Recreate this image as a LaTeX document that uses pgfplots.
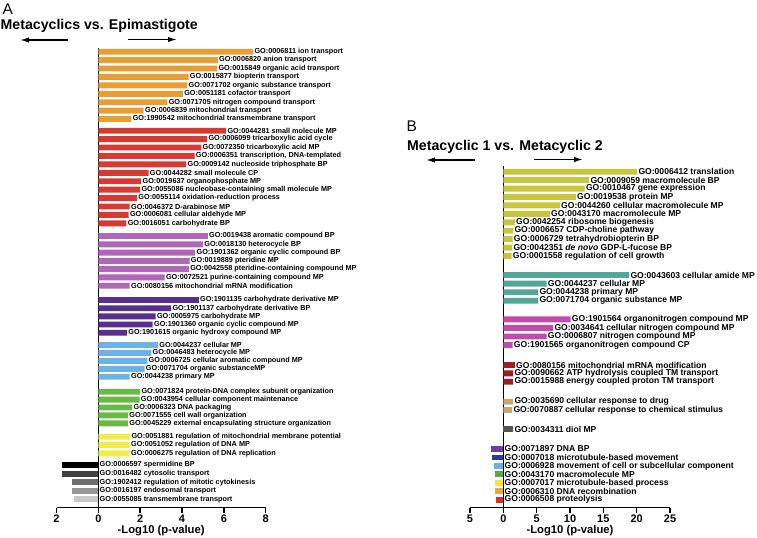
\documentclass[border=0pt]{standalone}
\usepackage{pgfplots}
\pgfplotsset{compat=1.18}
\usepackage{fontspec}
\setmainfont{Liberation Sans}
\usetikzlibrary{arrows.meta}
\definecolor{orangeA}{RGB}{232,158,52}
\definecolor{redA}{RGB}{214,58,50}
\definecolor{pinkA}{RGB}{178,102,185}
\definecolor{dpurpA}{RGB}{88,46,142}
\definecolor{lblueA}{RGB}{110,178,228}
\definecolor{greenA}{RGB}{106,184,72}
\definecolor{yellowA}{RGB}{244,236,72}
\definecolor{gA2}{RGB}{64,64,64}
\definecolor{gA3}{RGB}{110,110,110}
\definecolor{gA4}{RGB}{150,150,150}
\definecolor{gA5}{RGB}{200,200,200}
\definecolor{ygB}{RGB}{200,198,62}
\definecolor{tealB}{RGB}{84,166,152}
\definecolor{magB}{RGB}{190,76,168}
\definecolor{dredB}{RGB}{158,30,36}
\definecolor{tanB}{RGB}{200,168,116}
\definecolor{grayB}{RGB}{85,85,85}
\definecolor{nB1}{RGB}{112,64,160}
\definecolor{nB2}{RGB}{42,62,150}
\definecolor{nB3}{RGB}{106,176,224}
\definecolor{nB4}{RGB}{90,168,74}
\definecolor{nB5}{RGB}{245,230,66}
\definecolor{nB6}{RGB}{232,168,69}
\definecolor{nB7}{RGB}{216,48,42}
\pgfplotsset{
  gobar/.style={xbar, bar width=5.9, bar shift=0pt, draw=none, fill=#1,
    nodes near coords, point meta=explicit symbolic,
    every node near coord/.append style={anchor=west}},
  golab/.style={draw=none, mark=none, nodes near coords, point meta=explicit symbolic,
    nodes near coords align=horizontal, every node near coord/.append style={anchor=west}},
  goaxis/.style={
    scale only axis, clip=false,
    y dir=reverse,
    axis x line*=bottom, axis y line*=middle,
    axis line style={line width=1.4bp, black},
    ytick=\empty,
    tick align=outside, major tick length=5bp,
    every tick/.style={line width=1.4bp, black},
    xticklabel style={font=\fontsize{11}{12}\selectfont\bfseries, anchor=base, yshift=-9.5bp},
    xlabel={-Log10 (p-value)},
    xlabel style={font=\fontsize{11.3}{12}\selectfont\bfseries, at={(axis description cs:0.5,0)}, anchor=base, yshift=-26bp},
  },
}
\begin{document}
\begin{tikzpicture}
\path[use as bounding box] (0,0) rectangle (757bp,-538bp);
% Panel A headings
\node[anchor=base west, inner sep=0, font=\fontsize{15.5}{16}\selectfont] at (2.5bp,-14bp) {A};
\node[anchor=base west, inner sep=0, font=\fontsize{14.2}{15}\selectfont\bfseries] at (0.5bp,-29.5bp) {Metacyclics vs. Epimastigote};
\draw[line width=1.5bp, -{Latex[length=9bp,width=5.5bp]}] (68bp,-40bp) -- (20bp,-40bp);
\draw[line width=1.5bp, -{Latex[length=9bp,width=5.5bp]}] (128bp,-39.5bp) -- (177bp,-39.5bp);
% Panel B headings
\node[anchor=base west, inner sep=0, font=\fontsize{15.5}{16}\selectfont] at (406.5bp,-131.5bp) {B};
\node[anchor=base west, inner sep=0, font=\fontsize{14.2}{15}\selectfont\bfseries] at (407bp,-150bp) {Metacyclic 1 vs. Metacyclic 2};
\draw[line width=1.5bp, -{Latex[length=9bp,width=5.5bp]}] (475bp,-160bp) -- (426bp,-160bp);
\draw[line width=1.5bp, -{Latex[length=9bp,width=5.5bp]}] (534bp,-159.5bp) -- (583bp,-159.5bp);

\begin{axis}[goaxis,
  at={(56.5bp,-507.5bp)}, anchor=south west,
  width=209.2bp, height=459.5bp,
  xmin=-2, xmax=8, ymin=48, ymax=507.5,
  xtick={-2,0,2,4,6,8}, xticklabels={2,0,2,4,6,8},
  nodes near coords style={font=\fontsize{7.3}{8}\selectfont\bfseries, inner sep=1.2bp, text=black},
]
\addplot[gobar=orangeA] coordinates {
(7.4,51.7) [GO:0006811 ion transport]
(5.71,60.1) [GO:0006820 anion transport]
(5.68,68.5) [GO:0015849 organic acid transport]
(4.31,76.9) [GO:0015877 biopterin transport]
(4.25,85.3) [GO:0071702 organic substance transport]
(4.04,93.8) [GO:0051181 cofactor transport]
(3.3,102.2) [GO:0071705 nitrogen compound transport]
(2.17,110.6) [GO:0006839 mitochondrial transport]
(1.58,119.0) [GO:1990542 mitochondrial transmembrane transport]
};
\addplot[gobar=redA] coordinates {
(6.11,130.7) [GO:0044281 small molecule MP]
(5.2,139.1) [GO:0006099 tricarboxylic acid cycle]
(4.92,147.5) [GO:0072350 tricarboxylic acid MP]
(4.6,156.0) [{GO:0006351 transcription, DNA-templated}]
(4.2,164.4) [GO:0009142 nucleoside triphosphate BP]
(2.4,172.8) [GO:0044282 small molecule CP]
(2.05,181.2) [GO:0019637 organophosphate MP]
(2.0,189.6) [GO:0055086 nucleobase-containing small molecule MP]
(1.85,198.1) [GO:0055114 oxidation-reduction process]
(1.5,206.5) [GO:0046372 D-arabinose MP]
(1.45,214.9) [GO:0006081 cellular aldehyde MP]
(1.34,223.3) [GO:0016051 carbohydrate BP]
};
\addplot[gobar=pinkA] coordinates {
(5.23,236.0) [GO:0019438 aromatic compound BP]
(5.0,244.3) [GO:0018130 heterocycle BP]
(4.63,252.6) [GO:1901362 organic cyclic compound BP]
(4.36,260.8) [GO:0019889 pteridine MP]
(4.33,269.1) [GO:0042558 pteridine-containing compound MP]
(3.17,277.4) [GO:0072521 purine-containing compound MP]
(1.5,285.7) [GO:0080156 mitochondrial mRNA modification]
};
\addplot[gobar=dpurpA] coordinates {
(4.8,300.0) [GO:1901135 carbohydrate derivative MP]
(3.48,308.2) [GO:1901137 carbohydrate derivative BP]
(2.74,316.4) [GO:0005975 carbohydrate MP]
(2.6,324.5) [GO:1901360 organic cyclic compound MP]
(1.37,332.7) [GO:1901615 organic hydroxy compound MP]
};
\addplot[gobar=lblueA] coordinates {
(2.85,345.0) [GO:0044237 cellular MP]
(2.53,352.9) [GO:0046483 heterocycle MP]
(2.34,360.9) [GO:0006725 cellular aromatic compound MP]
(2.21,368.8) [GO:0071704 organic substanceMP]
(1.5,376.7) [GO:0044238 primary MP]
};
\addplot[gobar=greenA] coordinates {
(2.0,391.7) [GO:0071824 protein-DNA complex subunit organization]
(1.97,399.6) [GO:0043954 cellular component maintenance]
(1.62,407.5) [GO:0006323 DNA packaging]
(1.42,415.4) [GO:0071555 cell wall organization]
(1.42,423.3) [GO:0045229 external encapsulating structure organization]
};
\addplot[gobar=yellowA] coordinates {
(1.52,436.7) [GO:0051881 regulation of mitochondrial membrane potential]
(1.5,445.0) [GO:0051052 regulation of DNA MP]
(1.5,453.3) [GO:0006275 regulation of DNA replication]
};
\addplot[xbar, bar width=5.9, bar shift=0pt, draw=none, fill=black] coordinates {(-1.72,465.0)};
\addplot[xbar, bar width=5.9, bar shift=0pt, draw=none, fill=gA2] coordinates {(-1.72,473.6)};
\addplot[xbar, bar width=5.9, bar shift=0pt, draw=none, fill=gA3] coordinates {(-1.26,482.2)};
\addplot[xbar, bar width=5.9, bar shift=0pt, draw=none, fill=gA4] coordinates {(-1.26,490.7)};
\addplot[xbar, bar width=5.9, bar shift=0pt, draw=none, fill=gA5] coordinates {(-1.18,499.3)};
\addplot[golab] coordinates {
(0,465.0) [GO:0006597 spermidine BP]
(0,473.6) [GO:0016482 cytosolic transport]
(0,482.2) [GO:1902412 regulation of mitotic cytokinesis]
(0,490.7) [GO:0016197 endosomal transport]
(0,499.3) [GO:0055085 transmembrane transport]
};
\end{axis}

\begin{axis}[goaxis,
  at={(470bp,-507.5bp)}, anchor=south west,
  width=200bp, height=341.5bp,
  xmin=-5, xmax=25, ymin=166, ymax=507.5,
  xtick={-5,0,5,10,15,20,25}, xticklabels={5,0,5,10,15,20,25},
  nodes near coords style={font=\fontsize{8.6}{9}\selectfont\bfseries, inner sep=1.2bp, text=black},
]
\addplot[gobar=ygB] coordinates {
(20.07,171.7) [GO:0006412 translation]
(12.87,180.1) [GO:0009059 macromolecule BP]
(12.2,188.6) [GO:0010467 gene expression]
(10.87,197.0) [GO:0019538 protein MP]
(8.47,205.4) [GO:0044260 cellular macromolecule MP]
(6.97,213.9) [GO:0043170 macromolecule MP]
(1.72,222.3) [GO:0042254 ribosome biogenesis]
(1.47,230.7) [GO:0006657 CDP-choline pathway]
(1.38,239.1) [GO:0006729 tetrahydrobiopterin BP]
(1.32,247.6) [GO:0042351 \textit{de novo} GDP-L-fucose BP]
(1.23,256.0) [GO:0001558 regulation of cell growth]
};
\addplot[gobar=tealB] coordinates {
(18.87,275.0) [GO:0043603 cellular amide MP]
(6.48,283.6) [GO:0044237 cellular MP]
(5.22,292.2) [GO:0044238 primary MP]
(5.22,300.7) [GO:0071704 organic substance MP]
};
\addplot[gobar=magB] coordinates {
(10.08,319.3) [GO:1901564 organonitrogen compound MP]
(7.47,327.9) [GO:0034641 cellular nitrogen compound MP]
(6.48,336.5) [GO:0006807 nitrogen compound MP]
(1.38,345.0) [GO:1901565 organonitrogen compound CP]
};
\addplot[gobar=dredB] coordinates {
(1.72,365.0) [GO:0080156 mitochondrial mRNA modification]
(1.47,373.3) [GO:0090662 ATP hydrolysis coupled TM transport]
(1.47,381.7) [GO:0015988 energy coupled proton TM transport]
};
\addplot[gobar=tanB] coordinates {
(1.47,401.7) [GO:0035690 cellular response to drug]
(1.32,410.0) [GO:0070887 cellular response to chemical stimulus]
};
\addplot[gobar=grayB] coordinates {
(1.47,429.3) [GO:0034311 diol MP]
};
\addplot[xbar, bar width=5.9, bar shift=0pt, draw=none, fill=nB1] coordinates {(-1.87,449.0)};
\addplot[xbar, bar width=5.9, bar shift=0pt, draw=none, fill=nB2] coordinates {(-1.68,457.5)};
\addplot[xbar, bar width=5.9, bar shift=0pt, draw=none, fill=nB3] coordinates {(-1.38,465.9)};
\addplot[xbar, bar width=5.9, bar shift=0pt, draw=none, fill=nB4] coordinates {(-1.27,474.4)};
\addplot[xbar, bar width=5.9, bar shift=0pt, draw=none, fill=nB5] coordinates {(-1.27,482.8)};
\addplot[xbar, bar width=5.9, bar shift=0pt, draw=none, fill=nB6] coordinates {(-1.27,491.3)};
\addplot[xbar, bar width=5.9, bar shift=0pt, draw=none, fill=nB7] coordinates {(-1.17,499.7)};
\addplot[golab] coordinates {
(0,449.0) [GO:0071897 DNA BP]
(0,457.5) [GO:0007018 microtubule-based movement]
(0,465.9) [GO:0006928 movement of cell or subcellular component]
(0,474.4) [GO:0043170 macromolecule MP]
(0,482.8) [GO:0007017 microtubule-based process]
(0,491.3) [GO:0006310 DNA recombination]
(0,499.7) [GO:0006508 proteolysis]
};
\end{axis}
\end{tikzpicture}
\end{document}
